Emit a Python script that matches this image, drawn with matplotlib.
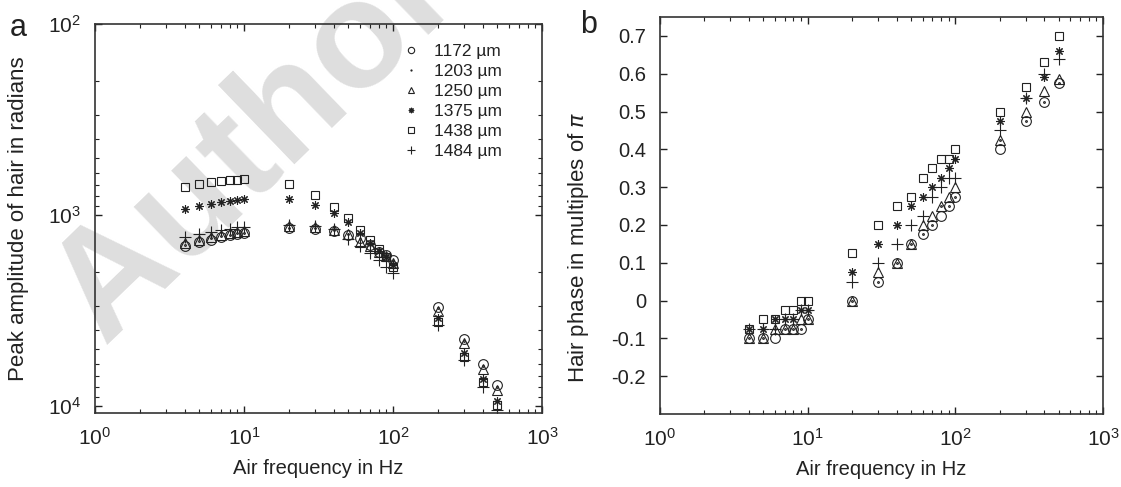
import numpy as np
import matplotlib
matplotlib.use("Agg")
import matplotlib.pyplot as plt
from matplotlib import font_manager
from matplotlib.ticker import FixedLocator, FormatStrFormatter

# pick a narrow Arial-like font if present
names = {f.name for f in font_manager.fontManager.ttflist}
fam = 'Liberation Sans Narrow' if 'Liberation Sans Narrow' in names else 'Liberation Sans'
plt.rcParams['font.family'] = [fam, 'DejaVu Sans']
plt.rcParams['axes.unicode_minus'] = False
plt.rcParams['mathtext.fontset'] = 'custom'
plt.rcParams['mathtext.rm'] = fam

freqs = [4, 5, 6, 7, 8, 9, 10, 20, 30, 40, 50, 60, 70, 80, 90, 100, 200, 300, 400, 500]
labels = ['1172 \u00b5m', '1203 \u00b5m', '1250 \u00b5m', '1375 \u00b5m', '1438 \u00b5m', '1484 \u00b5m']

# peak amplitude (axis shown inverted, as in the figure)
amp_1172 = [1453, 1393, 1344, 1303, 1280, 1257, 1247, 1175, 1177, 1213, 1265, 1324, 1436, 1556, 1619, 1726, 3020, 4477, 6026, 7762]
amp_1203 = [1430, 1375, 1325, 1290, 1265, 1245, 1235, 1165, 1170, 1205, 1262, 1335, 1440, 1560, 1625, 1745, 3080, 4560, 6150, 7950]
amp_1250 = [1396, 1344, 1297, 1265, 1242, 1227, 1220, 1142, 1156, 1198, 1262, 1380, 1452, 1562, 1630, 1790, 3170, 4698, 6398, 8245]
amp_1375 = [930, 900, 879, 858, 845, 834, 827, 824, 887, 980, 1092, 1238, 1402, 1538, 1660, 1827, 3474, 5260, 7244, 9380]
amp_1438 = [716, 690, 674, 666, 658, 653, 650, 688, 785, 905, 1040, 1200, 1352, 1513, 1653, 1879, 3622, 5521, 7463, 9886]
amp_1484 = [1303, 1257, 1227, 1198, 1177, 1162, 1156, 1128, 1142, 1184, 1341, 1448, 1575, 1721, 1866, 2019, 3767, 5741, 7925, 10490]

# hair phase in multiples of pi
ph_1172 = [-0.1, -0.1, -0.1, -0.075, -0.075, -0.075, -0.05, 0, 0.05, 0.1, 0.15, 0.175, 0.2, 0.225, 0.25, 0.275, 0.4, 0.475, 0.525, 0.575]
ph_1203 = [-0.1, -0.1, -0.075, -0.075, -0.075, -0.075, -0.05, 0, 0.05, 0.1, 0.15, 0.175, 0.2, 0.25, 0.25, 0.275, 0.425, 0.475, 0.525, 0.575]
ph_1250 = [-0.1, -0.1, -0.075, -0.075, -0.075, -0.05, -0.05, 0, 0.075, 0.1, 0.15, 0.2, 0.225, 0.25, 0.275, 0.3, 0.425, 0.5, 0.555, 0.585]
ph_1375 = [-0.075, -0.075, -0.05, -0.05, -0.05, -0.025, -0.025, 0.075, 0.15, 0.2, 0.25, 0.275, 0.3, 0.325, 0.35, 0.375, 0.475, 0.535, 0.59, 0.66]
ph_1438 = [-0.075, -0.05, -0.05, -0.025, -0.025, 0, 0, 0.125, 0.2, 0.25, 0.275, 0.325, 0.35, 0.375, 0.375, 0.4, 0.5, 0.565, 0.632, 0.7]
ph_1484 = [-0.075, -0.075, -0.075, -0.05, -0.05, -0.025, -0.025, 0.05, 0.1, 0.15, 0.2, 0.225, 0.275, 0.3, 0.325, 0.325, 0.45, 0.535, 0.6, 0.64]

amps = [amp_1172, amp_1203, amp_1250, amp_1375, amp_1438, amp_1484]
phases = [ph_1172, ph_1203, ph_1250, ph_1375, ph_1438, ph_1484]
markers = ['o', '.', '^', (8, 2, 0), 's', '+']
sizes = [7, 2.5, 7.5, 6, 6, 8]

ink = '#222222'

fig = plt.figure(figsize=(11.21, 4.87), dpi=100)

# watermark behind everything
fig.text(103 / 1121, 1 - 345 / 487, 'Author', fontsize=110, fontweight='bold',
         family='Liberation Sans', color='#dedede', rotation=44,
         rotation_mode='anchor', ha='left', va='baseline', zorder=-1)

ax1 = fig.add_axes([95 / 1121, 1 - 413 / 487, 447 / 1121, 389 / 487])
ax2 = fig.add_axes([660 / 1121, 1 - 414 / 487, 443 / 1121, 397 / 487])

for i in range(6):
    ax1.plot(freqs, amps[i], linestyle='none', marker=markers[i], ms=sizes[i],
             mfc='none', mec=ink, mew=0.8, color=ink, label=labels[i])
    ax2.plot(freqs, phases[i], linestyle='none', marker=markers[i], ms=sizes[i],
             mfc='none', mec=ink, mew=0.8, color=ink)

for ax in (ax1, ax2):
    ax.set_facecolor('none')
    ax.set_xscale('log')
    ax.set_xlim(1, 1000)
    ax.tick_params(which='both', direction='in', top=True, right=True,
                   colors=ink, labelcolor=ink)
    ax.tick_params(which='major', length=5, width=1, labelsize=15, pad=10)
    ax.tick_params(which='minor', length=3, width=0.8)
    for s in ax.spines.values():
        s.set_color('#333333')
        s.set_linewidth(1.2)
    ax.set_xlabel('Air frequency in Hz', fontsize=14.5, color=ink, labelpad=7)

ax2.tick_params(which='major', axis='y', labelsize=14.5)

ax1.set_yscale('log')
ax1.set_ylim(10880, 100)
ax1.set_ylabel('Peak amplitude of hair in radians', fontsize=16, color=ink)
ax1.yaxis.set_label_coords(-0.148, 0.5)
ax1.legend(loc='upper right', bbox_to_anchor=(0.945, 0.99), frameon=False,
           fontsize=12.5, markerscale=0.65, handlelength=1.0, handletextpad=0.8,
           labelspacing=0.28, labelcolor=ink)

ax2.set_ylim(-0.3, 0.75)
ax2.yaxis.set_major_locator(FixedLocator([-0.2, -0.1, 0, 0.1, 0.2, 0.3, 0.4, 0.5, 0.6, 0.7]))
ax2.yaxis.set_major_formatter(FormatStrFormatter('%g'))
ax2.set_ylabel('Hair phase in multiples of $\\pi$', fontsize=16, color=ink)
ax2.yaxis.set_label_coords(-0.155, 0.42)

fig.text(10 / 1121, 1 - 36 / 487, 'a', fontsize=22, color=ink, va='baseline')
fig.text(580 / 1121, 1 - 33 / 487, 'b', fontsize=22, color=ink, va='baseline')

fig.savefig('out.png', dpi=100)
